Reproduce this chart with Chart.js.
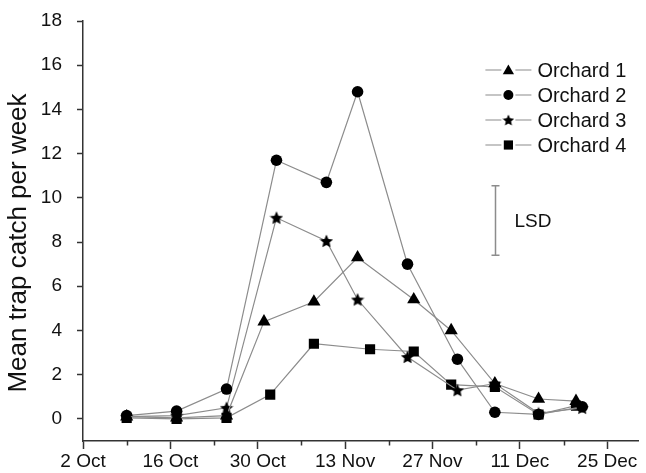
<!DOCTYPE html>
<html>
<head>
<meta charset="utf-8">
<script src="https://cdn.jsdelivr.net/npm/chart.js@4.4.1/dist/chart.umd.min.js"></script>
<style>
html,body{margin:0;padding:0;background:#fff;}
#wrap{width:646px;height:473px;}
</style>
</head>
<body>
<div id="wrap"><canvas id="c" width="646" height="473"></canvas></div>
<script>
// ---- data (x = days after 2 Oct) ----
const SERIES_NAMES = ['Orchard 1', 'Orchard 2', 'Orchard 3', 'Orchard 4'];
const DAYS_1 = [7, 15, 23, 29, 37, 44, 53, 59, 66, 73, 79];
const VALS_1 = [0.1, 0.05, 0.15, 4.4, 5.3, 7.3, 5.4, 4.0, 1.6, 0.9, 0.8];
const DAYS_2 = [7, 15, 23, 31, 39, 44, 52, 60, 66, 73, 80];
const VALS_2 = [0.15, 0.35, 1.35, 11.7, 10.7, 14.8, 7.0, 2.7, 0.3, 0.2, 0.55];
const DAYS_3 = [7, 15, 23, 31, 39, 44, 52, 60, 66, 73, 80];
const VALS_3 = [0.1, 0.15, 0.5, 9.1, 8.05, 5.4, 2.8, 1.3, 1.6, 0.25, 0.5];
const DAYS_4 = [7, 15, 23, 30, 37, 46, 53, 59, 66, 73, 79];
const VALS_4 = [0.05, 0.0, 0.05, 1.1, 3.4, 3.15, 3.05, 1.55, 1.45, 0.2, 0.6];
const X_TICK_DAYS = [0, 14, 28, 42, 56, 70, 84];
const X_TICK_LABELS = ['2 Oct', '16 Oct', '30 Oct', '13 Nov', '27 Nov', '11 Dec', '25 Dec'];
const X_MINOR_DAYS = [7, 21, 35, 49, 63, 77];
const Y_TICKS = [0, 2, 4, 6, 8, 10, 12, 14, 16, 18];
const LSD_DAY = 66;
const LSD_LOW = 7.4;
const LSD_HIGH = 10.55;
const LSD_LABEL = 'LSD';
const Y_TITLE = 'Mean trap catch per week';

const FONT = "'Liberation Sans', Arial, Helvetica, sans-serif";
const LINE_COLOR = '#8c8c8c';
const AXIS_COLOR = '#333333';

function starCanvas(size) {
  const cv = document.createElement('canvas');
  cv.width = size; cv.height = size;
  const g = cv.getContext('2d');
  const cx = size / 2, cy = size / 2 + 0.6, R = size / 2, r = R * 0.47;
  g.beginPath();
  for (let i = 0; i < 10; i++) {
    const a = -Math.PI / 2 + i * Math.PI / 5;
    const rr = i % 2 === 0 ? R : r;
    const px = cx + rr * Math.cos(a), py = cy + rr * Math.sin(a);
    if (i === 0) g.moveTo(px, py); else g.lineTo(px, py);
  }
  g.closePath();
  g.fillStyle = '#000';
  g.fill();
  return cv;
}
const STAR = starCanvas(14);

const STYLES = [
  { pointStyle: 'triangle', radius: 7.6 },
  { pointStyle: 'circle', radius: 5.8 },
  { pointStyle: STAR, radius: 7 },
  { pointStyle: 'rect', radius: 7.2 }
];

function pts(days, vals) { return days.map((d, i) => ({ x: d, y: vals[i] })); }
const ALL = [[DAYS_1, VALS_1], [DAYS_2, VALS_2], [DAYS_3, VALS_3], [DAYS_4, VALS_4]];

const datasets = ALL.map((s, i) => ({
  label: SERIES_NAMES[i],
  data: pts(s[0], s[1]),
  borderColor: LINE_COLOR,
  borderWidth: 1.2,
  backgroundColor: '#000',
  pointBackgroundColor: '#000',
  pointBorderColor: '#000',
  pointBorderWidth: 0,
  pointStyle: STYLES[i].pointStyle,
  pointRadius: STYLES[i].radius,
  tension: 0,
  fill: false
}));

function drawMarker(ctx, style, radius, x, y) {
  if (Chart.helpers && Chart.helpers.drawPoint) {
    ctx.save();
    ctx.fillStyle = '#000';
    ctx.strokeStyle = '#000';
    ctx.lineWidth = 0;
    Chart.helpers.drawPoint(ctx, { pointStyle: style, radius: radius, rotation: 0, borderWidth: 0 }, x, y);
    ctx.restore();
  }
}

const extras = {
  id: 'extras',
  afterDatasetsDraw(chart) {
    const ctx = chart.ctx;
    const xs = chart.scales.x, ys = chart.scales.y;
    const ca = chart.chartArea;
    // y axis title
    ctx.save();
    ctx.translate(19, (ca.top + ca.bottom) / 2 + 12);
    ctx.rotate(-Math.PI / 2);
    ctx.fillStyle = '#111';
    ctx.font = '26px ' + FONT;
    ctx.textAlign = 'center';
    ctx.textBaseline = 'middle';
    ctx.fillText(Y_TITLE, 0, 0);
    ctx.restore();
    // minor ticks on x axis
    ctx.save();
    ctx.strokeStyle = AXIS_COLOR;
    ctx.lineWidth = 1.5;
    X_MINOR_DAYS.forEach(d => {
      const px = Math.round(xs.getPixelForValue(d)) + 0.5;
      ctx.beginPath();
      ctx.moveTo(px, ca.bottom);
      ctx.lineTo(px, ca.bottom + 4.5);
      ctx.stroke();
    });
    ctx.restore();
    // LSD bar
    const lx = Math.round(xs.getPixelForValue(LSD_DAY)) + 0.5;
    const y1 = ys.getPixelForValue(LSD_HIGH), y2 = ys.getPixelForValue(LSD_LOW);
    ctx.save();
    ctx.strokeStyle = LINE_COLOR;
    ctx.lineWidth = 1.5;
    ctx.beginPath();
    ctx.moveTo(lx, y1); ctx.lineTo(lx, y2);
    ctx.moveTo(lx - 4, y1); ctx.lineTo(lx + 4, y1);
    ctx.moveTo(lx - 4, y2); ctx.lineTo(lx + 4, y2);
    ctx.stroke();
    ctx.fillStyle = '#111';
    ctx.font = '19px ' + FONT;
    ctx.textAlign = 'left';
    ctx.textBaseline = 'middle';
    ctx.fillText(LSD_LABEL, lx + 19, (y1 + y2) / 2 + 1);
    ctx.restore();
    // legend
    const lgX = ca.right - 153, lgY = 70, rowH = 25;
    chart.data.datasets.forEach((ds, i) => {
      const y = lgY + i * rowH;
      ctx.save();
      ctx.strokeStyle = LINE_COLOR;
      ctx.lineWidth = 1.2;
      ctx.beginPath();
      ctx.moveTo(lgX, y); ctx.lineTo(lgX + 16, y);
      ctx.moveTo(lgX + 30, y); ctx.lineTo(lgX + 46, y);
      ctx.stroke();
      ctx.restore();
      const st = STYLES[i];
      const rr = i === 0 ? 6.5 : (i === 1 ? 5 : (i === 3 ? 6.5 : 6));
      if (typeof st.pointStyle === 'string') {
        drawMarker(ctx, st.pointStyle, rr, lgX + 23, y + (i === 0 ? 1 : 0));
      } else {
        const s = starCanvas(12);
        ctx.drawImage(s, lgX + 23 - 6, y - 6);
      }
      ctx.save();
      ctx.fillStyle = '#111';
      ctx.font = '20px ' + FONT;
      ctx.textAlign = 'left';
      ctx.textBaseline = 'middle';
      ctx.fillText(ds.label, lgX + 52, y + 1);
      ctx.restore();
    });
  }
};

new Chart(document.getElementById('c'), {
  type: 'line',
  data: { datasets },
  options: {
    responsive: false,
    animation: false,
    devicePixelRatio: 1,
    layout: { padding: { top: 21, right: 6, left: 0, bottom: 0 } },
    plugins: { legend: { display: false }, tooltip: { enabled: false } },
    scales: {
      x: {
        type: 'linear',
        min: 0,
        max: 89,
        afterBuildTicks: (s) => { s.ticks = X_TICK_DAYS.map(v => ({ value: v })); },
        afterFit: (s) => { s.height = 32; },
        ticks: {
          autoSkip: false,
          maxRotation: 0,
          padding: 1,
          color: '#111',
          font: { family: FONT, size: 19 },
          callback: (v) => { const k = X_TICK_DAYS.indexOf(v); return k >= 0 ? X_TICK_LABELS[k] : ''; }
        },
        grid: { drawOnChartArea: false, tickLength: 8, tickColor: AXIS_COLOR, tickWidth: 1.5 },
        border: { display: true, color: AXIS_COLOR, width: 1.5 }
      },
      y: {
        type: 'linear',
        min: -1,
        max: 18,
        afterBuildTicks: (s) => { s.ticks = Y_TICKS.map(v => ({ value: v })); },
        afterFit: (s) => { s.width = 83; s.paddingTop = 0; s.paddingBottom = 0; },
        ticks: {
          autoSkip: false,
          padding: 15,
          color: '#111',
          font: { family: FONT, size: 19 }
        },
        grid: { drawOnChartArea: false, tickLength: 6, tickColor: AXIS_COLOR, tickWidth: 1.5 },
        border: { display: true, color: AXIS_COLOR, width: 1.5 }
      }
    }
  },
  plugins: [extras]
});
</script>
</body>
</html>
